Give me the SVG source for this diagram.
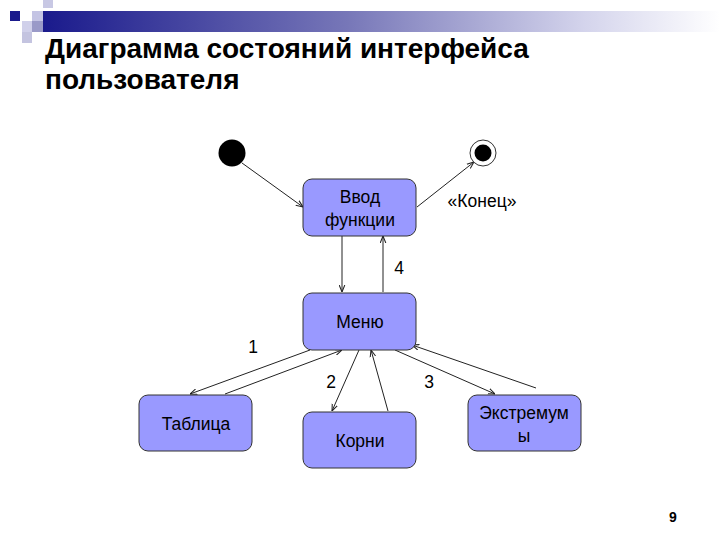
<svg xmlns="http://www.w3.org/2000/svg" width="720" height="540" viewBox="0 0 720 540">
<style>
.node rect{fill:#9999ff;stroke:#333;stroke-width:1}
.lbl{font-family:"Liberation Sans",Arial,sans-serif;font-size:17.5px;fill:#000;text-anchor:middle}
.num{font-family:"Liberation Sans",Arial,sans-serif;font-size:17.5px;fill:#000;text-anchor:middle}
.title{font-family:"Liberation Sans",Arial,sans-serif;font-size:28px;font-weight:bold;fill:#000}
#connectors line{stroke:#222;stroke-width:1;marker-end:url(#arr)}
</style>
<defs>
<linearGradient id="bar" x1="0" y1="0" x2="1" y2="0">
<stop offset="0" stop-color="#1a1a8c"/>
<stop offset="0.45" stop-color="#7777b8"/>
<stop offset="0.8" stop-color="#d4d4ec"/>
<stop offset="1" stop-color="#ffffff"/>
</linearGradient>
<marker id="arr" viewBox="0 0 10 10" refX="10" refY="5" markerWidth="7" markerHeight="7" orient="auto" markerUnits="userSpaceOnUse">
<path d="M0,1 L10,5 L0,9" fill="none" stroke="#222" stroke-width="1.5"/>
</marker>
</defs>
<rect width="720" height="540" fill="#fff"/>
<g id="header">
<rect x="43" y="11" width="677" height="21" fill="url(#bar)"/>
<rect x="43" y="0" width="10" height="8" fill="#c8c8e4"/>
<rect x="10" y="11" width="10" height="10" fill="#1a1a8c"/>
<rect x="32" y="11" width="11" height="10" fill="#c4c4e4"/>
<rect x="22" y="21" width="10" height="11" fill="#d0d0ea"/>
<rect x="32" y="21" width="11" height="11" fill="#9a9ac8"/>
<rect x="22" y="32" width="10" height="11" fill="#c4c4e0"/>
</g>
<text class="title" x="45" y="58">Диаграмма состояний интерфейса</text>
<text class="title" x="45" y="89">пользователя</text>
<g id="connectors">
<line x1="242" y1="163" x2="303" y2="207"/>
<line x1="417" y1="207" x2="474" y2="162"/>
<line x1="342" y1="236" x2="342" y2="292"/>
<line x1="383" y1="292" x2="383" y2="236"/>
<line x1="310" y1="350" x2="190" y2="394"/>
<line x1="225" y1="394" x2="342" y2="350"/>
<line x1="359" y1="350" x2="332" y2="411"/>
<line x1="388" y1="411" x2="371" y2="350"/>
<line x1="395" y1="350" x2="495" y2="394"/>
<line x1="536" y1="388" x2="412" y2="345"/>
</g>
<g id="start"><circle cx="232" cy="153" r="13.5" fill="#000"/></g>
<g id="end"><circle cx="483" cy="153" r="13" fill="#fff" stroke="#333" stroke-width="1"/><circle cx="483" cy="153" r="8.5" fill="#000"/></g>
<g id="vvod" class="node"><rect x="303" y="179" width="113" height="57" rx="9"/><text class="lbl" x="360" y="203">Ввод</text><text class="lbl" x="360" y="226">функции</text></g>
<g id="menu" class="node"><rect x="303" y="293" width="113" height="57" rx="9"/><text class="lbl" x="360" y="328">Меню</text></g>
<g id="tablica" class="node"><rect x="139" y="395" width="113" height="56" rx="9"/><text class="lbl" x="196" y="430">Таблица</text></g>
<g id="korni" class="node"><rect x="303" y="412" width="113" height="56" rx="9"/><text class="lbl" x="360" y="447">Корни</text></g>
<g id="ekstr" class="node"><rect x="468" y="395" width="113" height="56" rx="9"/><text class="lbl" x="524" y="419">Экстремум</text><text class="lbl" x="524" y="442">ы</text></g>
<text class="lbl" x="482" y="207">«Конец»</text>
<text class="num" x="253" y="353">1</text>
<text class="num" x="331" y="388">2</text>
<text class="num" x="429" y="388">3</text>
<text class="num" x="399" y="274">4</text>
<text x="673" y="522" font-family="'Liberation Sans',Arial,sans-serif" font-size="14" font-weight="bold" text-anchor="middle">9</text>
</svg>
